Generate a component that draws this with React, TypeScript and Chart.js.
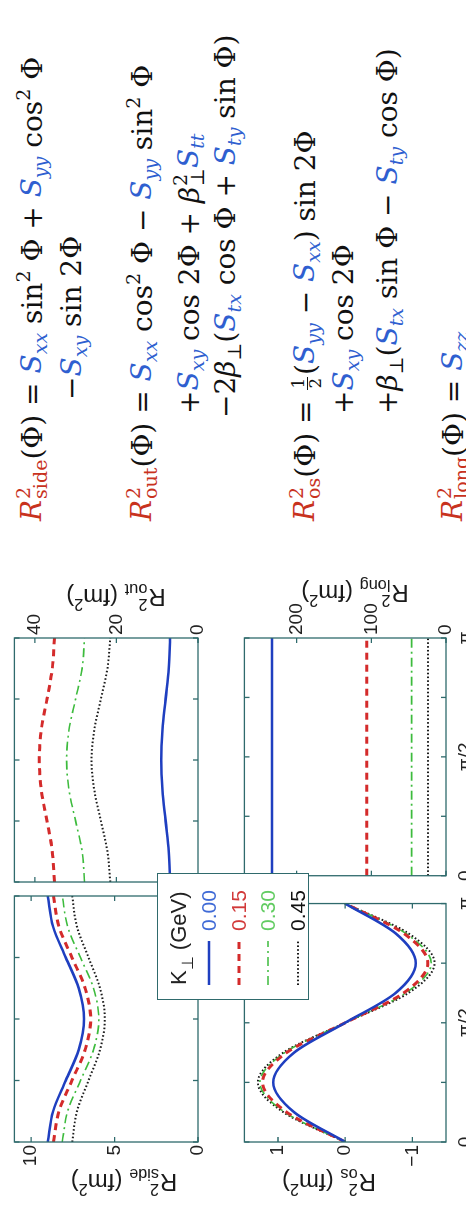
import React, { useEffect, useRef } from 'react';
import { Chart, registerables } from 'chart.js';

Chart.register(...registerables);

const PI = Math.PI;

// Emission angle Φ (in units of π) at which the radii are tabulated
const PHI_OVER_PI = [0, 0.125, 0.25, 0.375, 0.5, 0.625, 0.75, 0.875, 1];
const PHI_TICKS_OVER_PI = [0, 0.25, 0.5, 0.75, 1];
const PHI_TICK_LABELS = ['0', '', 'π/2', '', 'π'];

// Pair transverse momentum K⊥ (GeV)
const K_PERP = ['0.00', '0.15', '0.30', '0.45'];

// R²_side(Φ) in fm²
const SIDE_K000 = [9.0, 8.68, 7.92, 7.15, 6.83, 7.15, 7.92, 8.68, 9.0];
const SIDE_K015 = [8.66, 8.33, 7.55, 6.76, 6.43, 6.76, 7.55, 8.33, 8.66];
const SIDE_K030 = [8.13, 7.81, 7.04, 6.26, 5.94, 6.26, 7.04, 7.81, 8.13];
const SIDE_K045 = [7.54, 7.25, 6.56, 5.87, 5.58, 5.87, 6.56, 7.25, 7.54];

// R²_out(Φ) in fm²
const OUT_K000 = [6.85, 7.16, 7.93, 8.69, 9.0, 8.69, 7.93, 7.16, 6.85];
const OUT_K015 = [35.2, 35.7, 37.0, 38.4, 38.9, 38.4, 37.0, 35.7, 35.2];
const OUT_K030 = [27.8, 28.4, 30.0, 31.6, 32.2, 31.6, 30.0, 28.4, 27.8];
const OUT_K045 = [21.5, 22.2, 23.8, 25.4, 26.1, 25.4, 23.8, 22.2, 21.5];

// R²_os(Φ) in fm²
const OS_K000 = [0, 0.76, 1.07, 0.76, 0, -0.75, -1.05, -0.75, 0];
const OS_K015 = [0, 0.87, 1.23, 0.87, 0, -0.87, -1.23, -0.87, 0];
const OS_K030 = [0, 0.9, 1.27, 0.9, 0, -0.9, -1.28, -0.9, 0];
const OS_K045 = [0, 0.92, 1.3, 0.92, 0, -0.94, -1.33, -0.94, 0];

// R²_long(Φ) in fm²
const LONG_K000 = [233, 233, 233, 233, 233, 233, 233, 233, 233];
const LONG_K015 = [106, 106, 106, 106, 106, 106, 106, 106, 106];
const LONG_K030 = [46, 46, 46, 46, 46, 46, 46, 46, 46];
const LONG_K045 = [24, 24, 24, 24, 24, 24, 24, 24, 24];

// Value axes
const SIDE_TICKS = [0, 5, 10];
const OUT_TICKS = [0, 20, 40];
const OS_TICKS = [-1, 0, 1];
const LONG_TICKS = [0, 100, 200];

const FRAME = '#2f6a6c';
const TICK_FONT = { family: '"Liberation Sans", Arial, sans-serif', size: 19 };
const TICK_COLOR = '#222';

const STYLES = [
  { color: '#1f3fc0', width: 2.6, dash: [] as number[] },
  { color: '#d42b2b', width: 3, dash: [7, 5] },
  { color: '#3dbb3d', width: 1.6, dash: [9, 4, 2, 4] },
  { color: '#1b1b1b', width: 2, dash: [1.6, 2.2] },
];
const LEGEND_TEXT = ['#3f6ad6', '#d23a3a', '#62cc62', '#111'];

// Box outline plus inward-pointing tick marks on all four sides
const framePlugin = {
  id: 'panelFrame',
  afterDatasetsDraw(chart: any) {
    const { ctx, chartArea: a } = chart;
    const xs = chart.scales.x;
    const ys = chart.scales.y;
    const len = 5;
    ctx.save();
    ctx.setLineDash([]);
    ctx.strokeStyle = FRAME;
    ctx.lineWidth = 1.3;
    ctx.beginPath();
    for (const t of xs.ticks || []) {
      const p = xs.getPixelForValue(t.value);
      ctx.moveTo(p, a.bottom);
      ctx.lineTo(p, a.bottom - len);
      ctx.moveTo(p, a.top);
      ctx.lineTo(p, a.top + len);
    }
    for (const t of ys.ticks || []) {
      const p = ys.getPixelForValue(t.value);
      ctx.moveTo(a.left, p);
      ctx.lineTo(a.left + len, p);
      ctx.moveTo(a.right, p);
      ctx.lineTo(a.right - len, p);
    }
    ctx.stroke();
    ctx.strokeRect(a.left, a.top, a.right - a.left, a.bottom - a.top);
    ctx.restore();
  },
};

type PanelProps = {
  box: { left: number; top: number; width: number; height: number };
  padding: { top: number; right: number; bottom: number; left: number };
  yPosition: 'left' | 'right';
  yWidth: number;
  showX: boolean;
  series: number[][];
  yMin: number;
  yMax: number;
  yTicks: number[];
};

function Panel({ box, padding, yPosition, yWidth, showX, series, yMin, yMax, yTicks }: PanelProps) {
  const ref = useRef<HTMLCanvasElement | null>(null);
  useEffect(() => {
    const canvas = ref.current;
    if (!canvas) return;
    const chart = new Chart(canvas, {
      type: 'line',
      data: {
        datasets: series.map((vals, i) => ({
          label: K_PERP[i],
          data: PHI_OVER_PI.map((f, j) => ({ x: f * PI, y: vals[j] })),
          borderColor: STYLES[i].color,
          borderWidth: STYLES[i].width,
          borderDash: STYLES[i].dash,
          pointRadius: 0,
          fill: false,
          cubicInterpolationMode: 'monotone',
        })),
      },
      options: {
        animation: false,
        responsive: false,
        devicePixelRatio: 1,
        layout: { padding },
        plugins: { legend: { display: false }, tooltip: { enabled: false } },
        scales: {
          x: {
            type: 'linear',
            min: 0,
            max: PI,
            display: showX,
            afterBuildTicks: (axis: any) => {
              axis.ticks = PHI_TICKS_OVER_PI.map((f) => ({ value: f * PI }));
            },
            afterFit: (s: any) => {
              s.height = 20;
            },
            grid: { display: false, drawTicks: false },
            border: { display: false },
            ticks: {
              padding: 8,
              font: TICK_FONT,
              color: TICK_COLOR,
              maxRotation: 0,
              autoSkip: false,
              callback: (_v: any, i: number) => PHI_TICK_LABELS[i],
            },
          },
          y: {
            type: 'linear',
            position: yPosition,
            min: yMin,
            max: yMax,
            afterBuildTicks: (axis: any) => {
              axis.ticks = yTicks.map((v) => ({ value: v }));
            },
            afterFit: (s: any) => {
              s.width = yWidth;
            },
            grid: { display: false, drawTicks: false },
            border: { display: false },
            ticks: {
              padding: 3,
              font: TICK_FONT,
              color: TICK_COLOR,
              callback: (v: any) => (v < 0 ? '\u2212' + Math.abs(v) : String(v)),
            },
          },
        },
      } as any,
      plugins: [framePlugin],
    });
    return () => chart.destroy();
  }, []);
  return (
    <canvas
      ref={ref}
      width={box.width}
      height={box.height}
      style={{ position: 'absolute', left: box.left, top: box.top, width: box.width, height: box.height }}
    />
  );
}

// ---- typeset helpers ----
function Sup({ s, children }: { s: number; children: React.ReactNode }) {
  return <span style={{ fontSize: s * 0.68, verticalAlign: `${s * 0.42}px`, lineHeight: 0 }}>{children}</span>;
}
function Sub({ s, children }: { s: number; children: React.ReactNode }) {
  return <span style={{ fontSize: s * 0.68, verticalAlign: `${-s * 0.22}px`, lineHeight: 0 }}>{children}</span>;
}
function Scr({ s, sup, sub }: { s: number; sup: React.ReactNode; sub: React.ReactNode }) {
  return (
    <span
      style={{
        display: 'inline-flex',
        flexDirection: 'column',
        fontSize: s * 0.68,
        lineHeight: `${s * 0.62}px`,
        verticalAlign: `${s * 0.42}px`,
        marginLeft: 1,
      }}
    >
      <span>{sup}</span>
      <span>{sub}</span>
    </span>
  );
}

const EQ_F = 28;
const EQ_RED = '#c8321e';
const EQ_BLUE = '#2f5fd0';

function Rr({ sub }: { sub: string }) {
  return (
    <span style={{ color: EQ_RED }}>
      <i>R</i>
      <Scr s={EQ_F} sup="2" sub={sub} />
    </span>
  );
}
function Sv({ sub }: { sub: string }) {
  return (
    <span style={{ color: EQ_BLUE }}>
      <i>S</i>
      <Sub s={EQ_F}>
        <i>{sub}</i>
      </Sub>
    </span>
  );
}
function Half() {
  return (
    <span
      style={{
        display: 'inline-flex',
        flexDirection: 'column',
        alignItems: 'center',
        fontSize: EQ_F * 0.6,
        lineHeight: `${EQ_F * 0.56}px`,
        verticalAlign: `${EQ_F * 0.36}px`,
        margin: '0 2px',
      }}
    >
      <span style={{ borderBottom: '1.5px solid currentColor', padding: '0 1px' }}>1</span>
      <span>2</span>
    </span>
  );
}
function EqLine({ x, y, children }: { x: number; y: number; children: React.ReactNode }) {
  return (
    <div
      style={{
        position: 'absolute',
        left: x,
        top: y - EQ_F * 0.55,
        whiteSpace: 'pre',
        fontFamily: '"DejaVu Serif", serif',
        fontSize: EQ_F,
        lineHeight: `${EQ_F}px`,
        color: '#111',
      }}
    >
      {children}
    </div>
  );
}

const LABEL_F = 24;
function AxisTitle({ x, y, sub }: { x: number; y: number; sub: string }) {
  return (
    <div
      style={{
        position: 'absolute',
        left: x,
        top: y,
        transform: 'translate(-50%, -50%) rotate(-90deg)',
        whiteSpace: 'pre',
        fontFamily: '"Liberation Sans", Arial, sans-serif',
        fontSize: LABEL_F,
        lineHeight: `${LABEL_F}px`,
        color: '#1a1a1a',
      }}
    >
      R<Scr s={LABEL_F} sup="2" sub={sub} /> (fm<Sup s={LABEL_F}>2</Sup>)
    </div>
  );
}

function Legend() {
  const rowY = [51, 81, 110, 140];
  return (
    <div
      style={{
        position: 'absolute',
        left: 209,
        top: 157,
        width: 127,
        height: 152,
        boxSizing: 'border-box',
        background: '#fff',
        border: `1.3px solid ${FRAME}`,
        fontFamily: '"Liberation Sans", Arial, sans-serif',
        fontSize: 21,
        zIndex: 2,
      }}
    >
      <div style={{ position: 'absolute', left: 14, top: 21 - 13, lineHeight: '26px', whiteSpace: 'pre', color: '#222', fontSize: 22 }}>
        K<span style={{ fontSize: 16, verticalAlign: '-7px' }}>⊥</span> (GeV)
      </div>
      {K_PERP.map((k, i) => (
        <React.Fragment key={k}>
          <svg
            width={44}
            height={8}
            style={{ position: 'absolute', left: 14, top: rowY[i] - 4 }}
          >
            <line
              x1={0}
              y1={4}
              x2={44}
              y2={4}
              stroke={STYLES[i].color}
              strokeWidth={STYLES[i].width}
              strokeDasharray={STYLES[i].dash.join(' ')}
            />
          </svg>
          <div
            style={{ position: 'absolute', left: 68, top: rowY[i] - 12, lineHeight: '24px', color: LEGEND_TEXT[i] }}
          >
            {k}
          </div>
        </React.Fragment>
      ))}
    </div>
  );
}

export default function App() {
  return (
    <div style={{ position: 'fixed', left: 0, top: 0, width: 466, height: 1209, overflow: 'hidden', background: '#fff' }}>
      <div
        style={{
          position: 'absolute',
          left: 0,
          top: 0,
          width: 1209,
          height: 466,
          transformOrigin: '0 0',
          transform: 'translateY(1209px) rotate(-90deg)',
        }}
      >
        <Panel
          box={{ left: 0, top: 0, width: 320, height: 230 }}
          padding={{ top: 12, right: 7, bottom: 12, left: 0 }}
          yPosition="left"
          yWidth={67}
          showX={false}
          series={[SIDE_K000, SIDE_K015, SIDE_K030, SIDE_K045]}
          yMin={0}
          yMax={11}
          yTicks={SIDE_TICKS}
        />
        <Panel
          box={{ left: 320, top: 0, width: 300, height: 230 }}
          padding={{ top: 12, right: 0, bottom: 12, left: 7 }}
          yPosition="right"
          yWidth={49}
          showX={false}
          series={[OUT_K000, OUT_K015, OUT_K030, OUT_K045]}
          yMin={0}
          yMax={45}
          yTicks={OUT_TICKS}
        />
        <Panel
          box={{ left: 0, top: 230, width: 320, height: 236 }}
          padding={{ top: 9, right: 7, bottom: 0, left: 0 }}
          yPosition="left"
          yWidth={67}
          showX={true}
          series={[OS_K000, OS_K015, OS_K030, OS_K045]}
          yMin={-1.5}
          yMax={1.5}
          yTicks={OS_TICKS}
        />
        <Panel
          box={{ left: 320, top: 230, width: 300, height: 236 }}
          padding={{ top: 9, right: 0, bottom: 0, left: 7 }}
          yPosition="right"
          yWidth={49}
          showX={true}
          series={[LONG_K000, LONG_K015, LONG_K030, LONG_K045]}
          yMin={0}
          yMax={270}
          yTicks={LONG_TICKS}
        />

        <AxisTitle x={27} y={124} sub="side" />
        <AxisTitle x={27} y={329} sub="os" />
        <AxisTitle x={612} y={116} sub="out" />
        <AxisTitle x={616} y={355} sub="long" />

        <Legend />

        <EqLine x={688} y={30}>
          <Rr sub="side" />(Φ) = <Sv sub="xx" /> sin<Sup s={EQ_F}>2</Sup> Φ + <Sv sub="yy" /> cos<Sup s={EQ_F}>2</Sup> Φ
        </EqLine>
        <EqLine x={809} y={73}>
          −<Sv sub="xy" /> sin 2Φ
        </EqLine>

        <EqLine x={688} y={140}>
          <Rr sub="out" />(Φ) = <Sv sub="xx" /> cos<Sup s={EQ_F}>2</Sup> Φ − <Sv sub="yy" /> sin<Sup s={EQ_F}>2</Sup> Φ
        </EqLine>
        <EqLine x={795} y={187}>
          +<Sv sub="xy" /> cos 2Φ + <i>β</i>
          <Scr s={EQ_F} sup="2" sub="⊥" />
          <Sv sub="tt" />
        </EqLine>
        <EqLine x={791} y={227}>
          −2<i>β</i>
          <Sub s={EQ_F}>⊥</Sub>(<Sv sub="tx" /> cos Φ + <Sv sub="ty" /> sin Φ)
        </EqLine>

        <EqLine x={688} y={303}>
          <Rr sub="os" />(Φ) = <Half />(<Sv sub="yy" /> − <Sv sub="xx" />) sin 2Φ
        </EqLine>
        <EqLine x={795} y={345}>
          +<Sv sub="xy" /> cos 2Φ
        </EqLine>
        <EqLine x={795} y={389}>
          +<i>β</i>
          <Sub s={EQ_F}>⊥</Sub>(<Sv sub="tx" /> sin Φ − <Sv sub="ty" /> cos Φ)
        </EqLine>

        <EqLine x={688} y={451}>
          <Rr sub="long" />(Φ) = <Sv sub="zz" />
        </EqLine>
      </div>
    </div>
  );
}
